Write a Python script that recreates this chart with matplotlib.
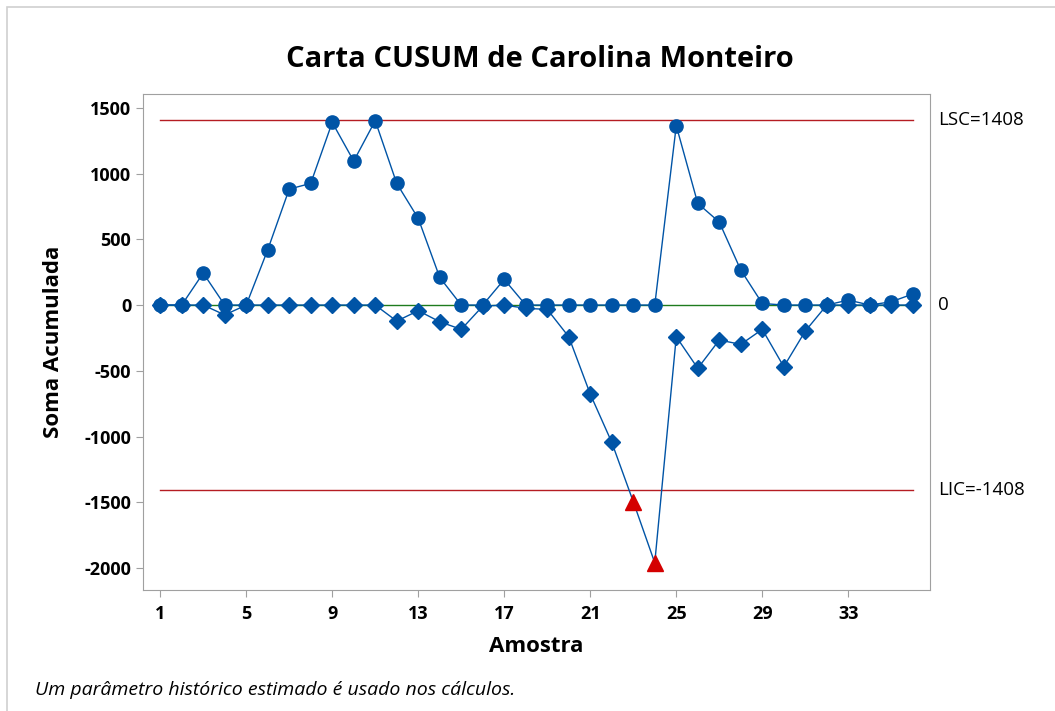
import matplotlib.pyplot as plt
from matplotlib.patches import Rectangle

# amostras e somas acumuladas
amostra = list(range(1, 37))
cusum_sup = [0, 0, 243, 0, 0, 420, 882, 925, 1389, 1095, 1402, 925, 659, 210, 0, 0,
             195, 0, 0, 0, 0, 0, 0, 0, 1364, 773, 631, 266, 12, 0, 0, 0, 38, 0, 25, 84]
cusum_inf = [0, 0, 0, -75, 0, 0, 0, 0, 0, 0, 0, -122, -43, -127, -185, -8,
             0, -25, -33, -241, -677, -1044, -1495, -1960, -241, -481, -266, -299, -185, -469, -198, 0,
             0, 0, 0, 0]
lsc = 1408
lic = -1408
centro = 0
xticks = [1, 5, 9, 13, 17, 21, 25, 29, 33]
yticks = [-2000, -1500, -1000, -500, 0, 500, 1000, 1500]

plt.rcParams['font.family'] = ['Open Sans', 'DejaVu Sans']
plt.rcParams['axes.unicode_minus'] = False

azul = '#0054A6'
vermelho = '#B51C22'

fig = plt.figure(figsize=(10.55, 7.11), dpi=100)
ax = fig.add_axes([143 / 1055, 1 - 590 / 711, 787 / 1055, 496 / 711])

# borda cinza da janela
fig.patches.append(Rectangle((7 / 1055, -0.1), 1.2, (1 - 7 / 711) + 0.1, transform=fig.transFigure,
                             fill=False, edgecolor='#D0D0D0', linewidth=1.2))

ax.plot([amostra[0], amostra[-1]], [lsc, lsc], color=vermelho, lw=1, zorder=1)
ax.plot([amostra[0], amostra[-1]], [lic, lic], color=vermelho, lw=1, zorder=1)
ax.plot([amostra[0], amostra[-1]], [centro, centro], color='#1E7B1E', lw=1, zorder=1)

ax.plot(amostra, cusum_sup, color=azul, lw=1, marker='o', markersize=9.5, zorder=3)

fora = [i for i, v in enumerate(cusum_inf) if v < lic]
dentro = [i for i, v in enumerate(cusum_inf) if v >= lic]
ax.plot(amostra, cusum_inf, color=azul, lw=1, zorder=3)
ax.plot([amostra[i] for i in dentro], [cusum_inf[i] for i in dentro], ls='none',
        marker='D', markersize=8, color=azul, zorder=4)
ax.plot([amostra[i] for i in fora], [cusum_inf[i] for i in fora], ls='none',
        marker='^', markersize=11, color='#D40000', zorder=4)

ax.set_xlim(0.2, 36.8)
ax.set_ylim(-2167, 1605)
ax.set_xticks(xticks)
ax.set_yticks(yticks)
for s in ax.spines.values():
    s.set_color('#A0A0A0')
ax.tick_params(colors='#A0A0A0', length=5, labelcolor='black', labelsize=13)
ax.tick_params(axis='x', pad=6)
for lab in ax.get_xticklabels() + ax.get_yticklabels():
    lab.set_fontweight('bold')

ax.set_ylabel('Soma Acumulada', fontsize=16, fontweight='bold')
ax.set_xlabel('Amostra', fontsize=16, fontweight='bold')
ax.yaxis.set_label_coords(-0.100, 0.5)
ax.xaxis.set_label_coords(0.5, -0.093)

for val, txt in [(lsc, 'LSC=1408'), (centro, '0'), (lic, 'LIC=-1408')]:
    ax.text(1.01, val, txt, transform=ax.get_yaxis_transform(), va='center', ha='left', fontsize=13.5)

fig.text(0.512, 0.917, 'Carta CUSUM de Carolina Monteiro', ha='center', va='center',
         fontsize=21, fontweight='bold')
fig.text(35 / 1055, 1 - 690 / 711, 'Um parâmetro histórico estimado é usado nos cálculos.',
         ha='left', va='center', fontsize=14, style='italic')

fig.savefig('out.png', dpi=100)
